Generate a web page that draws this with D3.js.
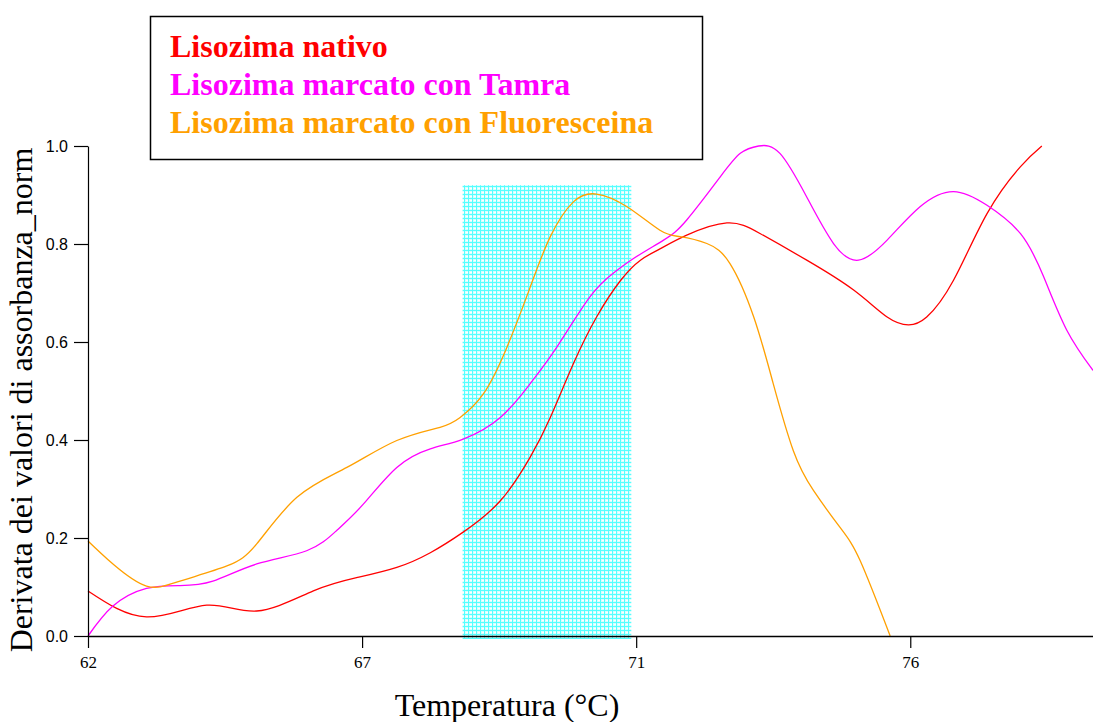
<!DOCTYPE html>
<html>
<head>
<meta charset="utf-8">
<script src="https://d3js.org/d3.v7.min.js"></script>
<title>Derivata assorbanza</title>
<style>
  body { margin: 0; background: #fff; }
</style>
</head>
<body>
<svg id="chart" width="1093" height="722"></svg>
<script>
// temperature (°C) and normalised derivative for each sample
const tNativo = [62.00, 62.96, 63.95, 64.77, 65.70, 66.41, 67.07, 67.62, 68.16, 68.77, 69.26, 69.59, 69.97, 70.35, 70.74, 71.07, 71.39, 71.83, 72.49, 73.04, 73.80, 74.57, 75.12, 75.47, 75.77, 76.21, 76.76, 77.31, 77.66];
const vNativo = [0.092, 0.039, 0.063, 0.051, 0.092, 0.119, 0.140, 0.170, 0.212, 0.276, 0.365, 0.446, 0.556, 0.651, 0.725, 0.767, 0.790, 0.818, 0.843, 0.821, 0.767, 0.706, 0.651, 0.635, 0.651, 0.726, 0.862, 0.958, 1.000];

const tTamra = [62.00, 62.41, 62.96, 63.51, 64.05, 64.77, 65.59, 66.08, 66.52, 67.07, 67.62, 68.16, 68.77, 69.26, 69.70, 70.24, 70.62, 70.95, 71.45, 71.83, 72.38, 72.71, 73.01, 73.36, 73.80, 74.24, 74.65, 75.12, 75.66, 76.21, 76.76, 77.31, 77.69, 78.07, 78.50];
const vTamra = [0.000, 0.061, 0.097, 0.103, 0.112, 0.147, 0.174, 0.215, 0.269, 0.344, 0.382, 0.402, 0.446, 0.515, 0.590, 0.692, 0.740, 0.770, 0.808, 0.849, 0.937, 0.985, 1.000, 0.985, 0.896, 0.801, 0.767, 0.808, 0.876, 0.907, 0.879, 0.821, 0.733, 0.624, 0.542];

const tFluo = [62.00, 62.41, 62.96, 63.51, 64.28, 64.77, 65.43, 66.25, 67.07, 67.78, 68.11, 68.49, 68.88, 69.26, 69.59, 69.97, 70.35, 70.85, 71.39, 71.72, 72.16, 72.54, 72.93, 73.25, 73.58, 73.91, 74.35, 74.68, 75.17];
const vFluo = [0.194, 0.147, 0.102, 0.112, 0.143, 0.188, 0.283, 0.344, 0.399, 0.426, 0.446, 0.494, 0.590, 0.712, 0.815, 0.886, 0.902, 0.876, 0.828, 0.815, 0.801, 0.760, 0.651, 0.515, 0.378, 0.297, 0.221, 0.153, 0.000];

const seriesNames = ["Lisozima nativo", "Lisozima marcato con Tamra", "Lisozima marcato con Fluoresceina"];
const seriesColors = ["#ff0000", "#ff00ff", "#ffa000"];

// shaded temperature band
const bandT = [68.15, 70.92];
const bandTop = 0.92;

const xTicks = [62, 66.5, 71, 75.5];
const yTicks = [0, 0.2, 0.4, 0.6, 0.8, 1.0];

const svg = d3.select("svg#chart");
const margin = {top: 146, right: 0, bottom: 86, left: 88};
const width = +svg.attr("width") - margin.left - margin.right;
const height = +svg.attr("height") - margin.top - margin.bottom;

const x = d3.scaleLinear().domain([62, 78.5]).range([0, width]);
const y = d3.scaleLinear().domain([0, 1]).range([height, 0]);

// dotted cyan texture for the band
const defs = svg.append("defs");
const pat = defs.append("pattern")
  .attr("id", "cyanDots")
  .attr("width", 4).attr("height", 4)
  .attr("patternUnits", "userSpaceOnUse");
pat.append("rect").attr("width", 4).attr("height", 4).attr("fill", "#d6ffff");
pat.append("rect").attr("width", 4).attr("height", 1).attr("fill", "#55ffff");
pat.append("rect").attr("width", 1).attr("height", 4).attr("fill", "#55ffff");
pat.append("rect").attr("x", 2).attr("y", 2).attr("width", 2).attr("height", 1).attr("fill", "#ffffff");

const g = svg.append("g").attr("transform", `translate(${margin.left},${margin.top})`);

g.append("rect")
  .attr("x", x(bandT[0]))
  .attr("y", y(bandTop))
  .attr("width", x(bandT[1]) - x(bandT[0]))
  .attr("height", y(0) - y(bandTop) + 3)
  .attr("fill", "url(#cyanDots)");

const line = d3.line()
  .x(d => x(d[0]))
  .y(d => y(d[1]))
  .curve(d3.curveNatural);

const series = [
  d3.zip(tNativo, vNativo),
  d3.zip(tTamra, vTamra),
  d3.zip(tFluo, vFluo)
];

series.forEach((s, i) => {
  g.append("path")
    .datum(s)
    .attr("d", line)
    .attr("fill", "none")
    .attr("stroke", seriesColors[i])
    .attr("stroke-width", 1.3);
});

// axes
const xAxis = g.append("g")
  .attr("transform", `translate(0,${height})`)
  .call(d3.axisBottom(x).tickValues(xTicks).tickFormat(d3.format(".0f")).tickSize(12).tickSizeOuter(0));
xAxis.select(".domain").attr("stroke", "#000").attr("stroke-width", 1.5);
xAxis.selectAll(".tick line").attr("stroke-width", 1.2);
xAxis.selectAll(".tick text")
  .attr("font-family", "Liberation Serif, Times New Roman, serif")
  .attr("font-size", 17)
  .attr("dy", "1.0em")
  .attr("fill", "#000");

const yAxis = g.append("g")
  .call(d3.axisLeft(y).tickValues(yTicks).tickFormat(d3.format(".1f")).tickSize(14).tickSizeOuter(0));
yAxis.select(".domain").attr("stroke", "#000").attr("stroke-width", 1.2);
yAxis.selectAll(".tick line").attr("stroke-width", 1.2);
yAxis.selectAll(".tick text")
  .attr("font-family", "Liberation Sans, Arial, sans-serif")
  .attr("font-size", 16)
  .attr("x", -20)
  .attr("fill", "#000");

// axis titles
svg.append("text")
  .attr("x", 507)
  .attr("y", 716)
  .attr("text-anchor", "middle")
  .attr("font-family", "Liberation Serif, Times New Roman, serif")
  .attr("font-size", 32)
  .text("Temperatura (°C)");

svg.append("text")
  .attr("transform", `translate(32,${margin.top + 254}) rotate(-90)`)
  .attr("text-anchor", "middle")
  .attr("font-family", "Liberation Serif, Times New Roman, serif")
  .attr("font-size", 32)
  .text("Derivata dei valori di assorbanza_norm");

// legend
const legend = svg.append("g");
legend.append("rect")
  .attr("x", 150.5).attr("y", 16.5)
  .attr("width", 552).attr("height", 143)
  .attr("fill", "#fff")
  .attr("stroke", "#000")
  .attr("stroke-width", 1.5);
seriesNames.forEach((n, i) => {
  legend.append("text")
    .attr("x", 170)
    .attr("y", 57 + i * 38)
    .attr("font-family", "Liberation Serif, Times New Roman, serif")
    .attr("font-weight", "bold")
    .attr("font-size", 32)
    .attr("fill", seriesColors[i])
    .text(n);
});
</script>
</body>
</html>
